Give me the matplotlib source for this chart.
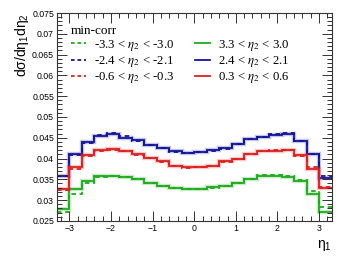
import numpy as np
import matplotlib
matplotlib.use("Agg")
import matplotlib.pyplot as plt
from matplotlib.ticker import MultipleLocator, FixedLocator
from matplotlib.font_manager import FontProperties

plt.rcParams['font.family'] = ['Liberation Sans', 'DejaVu Sans']
plt.rcParams['mathtext.fontset'] = 'custom'
plt.rcParams['mathtext.rm'] = 'Liberation Sans'
plt.rcParams['mathtext.it'] = 'Liberation Sans'

# bin edges of eta_1
edges = [-3.3, -3.0, -2.7, -2.4, -2.1, -1.8, -1.5, -1.2, -0.9, -0.6, -0.3, 0.0,
         0.3, 0.6, 0.9, 1.2, 1.5, 1.8, 2.1, 2.4, 2.7, 3.0, 3.3]

# solid: positive eta_2 ranges
green_pos = [0.0278, 0.0327, 0.0346, 0.0358, 0.0359, 0.0356, 0.0351, 0.0342, 0.0334, 0.0329, 0.0326,
             0.0327, 0.0331, 0.0334, 0.0342, 0.0351, 0.0358, 0.0359, 0.0356, 0.0346, 0.0315, 0.0272]
blue_pos = [0.0359, 0.0410, 0.0439, 0.0454, 0.0460, 0.0450, 0.0444, 0.0432, 0.0426, 0.0418, 0.0414,
            0.0415, 0.0420, 0.0425, 0.0436, 0.0448, 0.0452, 0.0457, 0.0460, 0.0442, 0.0410, 0.0354]
red_pos = [0.0327, 0.0379, 0.0408, 0.0420, 0.0424, 0.0418, 0.0410, 0.0402, 0.0394, 0.0383, 0.0379,
           0.0380, 0.0382, 0.0394, 0.0399, 0.0410, 0.0418, 0.0419, 0.0421, 0.0408, 0.0376, 0.0329]

# dashed: negative eta_2 ranges
green_neg = [0.0272, 0.0314, 0.0342, 0.0355, 0.0357, 0.0355, 0.0352, 0.0341, 0.0335, 0.0328, 0.0327,
             0.0327, 0.0330, 0.0335, 0.0341, 0.0352, 0.0361, 0.0360, 0.0358, 0.0348, 0.0321, 0.0283]
blue_neg = [0.0357, 0.0409, 0.0437, 0.0456, 0.0462, 0.0455, 0.0443, 0.0433, 0.0425, 0.0416, 0.0413,
            0.0415, 0.0419, 0.0424, 0.0434, 0.0446, 0.0453, 0.0458, 0.0461, 0.0443, 0.0410, 0.0358]
red_neg = [0.0325, 0.0376, 0.0406, 0.0418, 0.0421, 0.0417, 0.0409, 0.0401, 0.0392, 0.0382, 0.0378,
           0.0380, 0.0383, 0.0392, 0.0400, 0.0410, 0.0417, 0.0420, 0.0420, 0.0406, 0.0379, 0.0332]

labels_neg = [r'-3.3 < $\eta_{2}$ < -3.0', r'-2.4 < $\eta_{2}$ < -2.1', r'-0.6 < $\eta_{2}$ < -0.3']
labels_pos = [r'3.3 < $\eta_{2}$ < 3.0', r'2.4 < $\eta_{2}$ < 2.1', r'0.3 < $\eta_{2}$ < 0.6']

GREEN = '#1faa1f'
BLUE = '#14149a'
RED = '#dd2020'

fig = plt.figure(figsize=(3.49, 2.63), dpi=100)
ax = fig.add_axes([0.163, 0.16, 0.787, 0.7905])

handles_neg = []
handles_pos = []
for vals_p, vals_n, col in [(green_pos, green_neg, GREEN), (blue_pos, blue_neg, BLUE), (red_pos, red_neg, RED)]:
    ax.stairs(vals_p, edges, color=col, lw=3.2, alpha=0.25, baseline=None)
    ax.stairs(vals_p, edges, color=col, lw=1.3, baseline=None)
    ax.stairs(vals_n, edges, color=col, lw=1.3, linestyle=(0, (2.5, 2.0)), baseline=None)
    handles_pos.append(plt.Line2D([], [], color=col, lw=1.3))
    handles_neg.append(plt.Line2D([], [], color=col, lw=1.3, linestyle=(0, (2.0, 1.6))))

ax.set_xlim(-3.3, 3.3)
ax.set_ylim(0.025, 0.075)
ax.xaxis.set_major_locator(FixedLocator([-3, -2, -1, 0, 1, 2, 3]))
ax.xaxis.set_minor_locator(MultipleLocator(0.2))
yt = [0.025, 0.03, 0.035, 0.04, 0.045, 0.05, 0.055, 0.06, 0.065, 0.07, 0.075]
ax.set_yticks(yt)
ax.set_yticklabels(['0.025', '0.03', '0.035', '0.04', '0.045', '0.05', '0.055', '0.06', '0.065', '0.07', '0.075'])
ax.yaxis.set_minor_locator(MultipleLocator(0.001))
ax.set_xticklabels(['\u22123', '\u22122', '\u22121', '0', '1', '2', '3'])
ax.tick_params(which='both', direction='in', top=True, right=True, labelsize=6.3, color='#333333', pad=2)
ax.tick_params(which='major', length=7, width=0.7)
ax.tick_params(which='minor', length=3.5, width=0.7)
for s in ax.spines.values():
    s.set_linewidth(0.8)
    s.set_color('#333333')

ax.set_ylabel(r'd$\sigma$/d$\eta_{1}$d$\eta_{2}$', loc='top', fontsize=10, labelpad=1)
ax.set_xlabel(r'$\eta_{1}$', loc='right', fontsize=10, labelpad=4)

leg_font = FontProperties(family='Liberation Serif', size=9.2, math_fontfamily='stix')
title_font = FontProperties(family='Liberation Serif', size=9.5)
leg = ax.legend(handles_neg + handles_pos, labels_neg + labels_pos, ncol=2, frameon=False,
                loc='upper left', bbox_to_anchor=(0.01, 1.0), title='min-corr',
                alignment='left', handlelength=1.2, handletextpad=0.6, columnspacing=1.6,
                labelspacing=0.1, prop=leg_font, title_fontproperties=title_font)

fig.savefig('out.png', dpi=100)
